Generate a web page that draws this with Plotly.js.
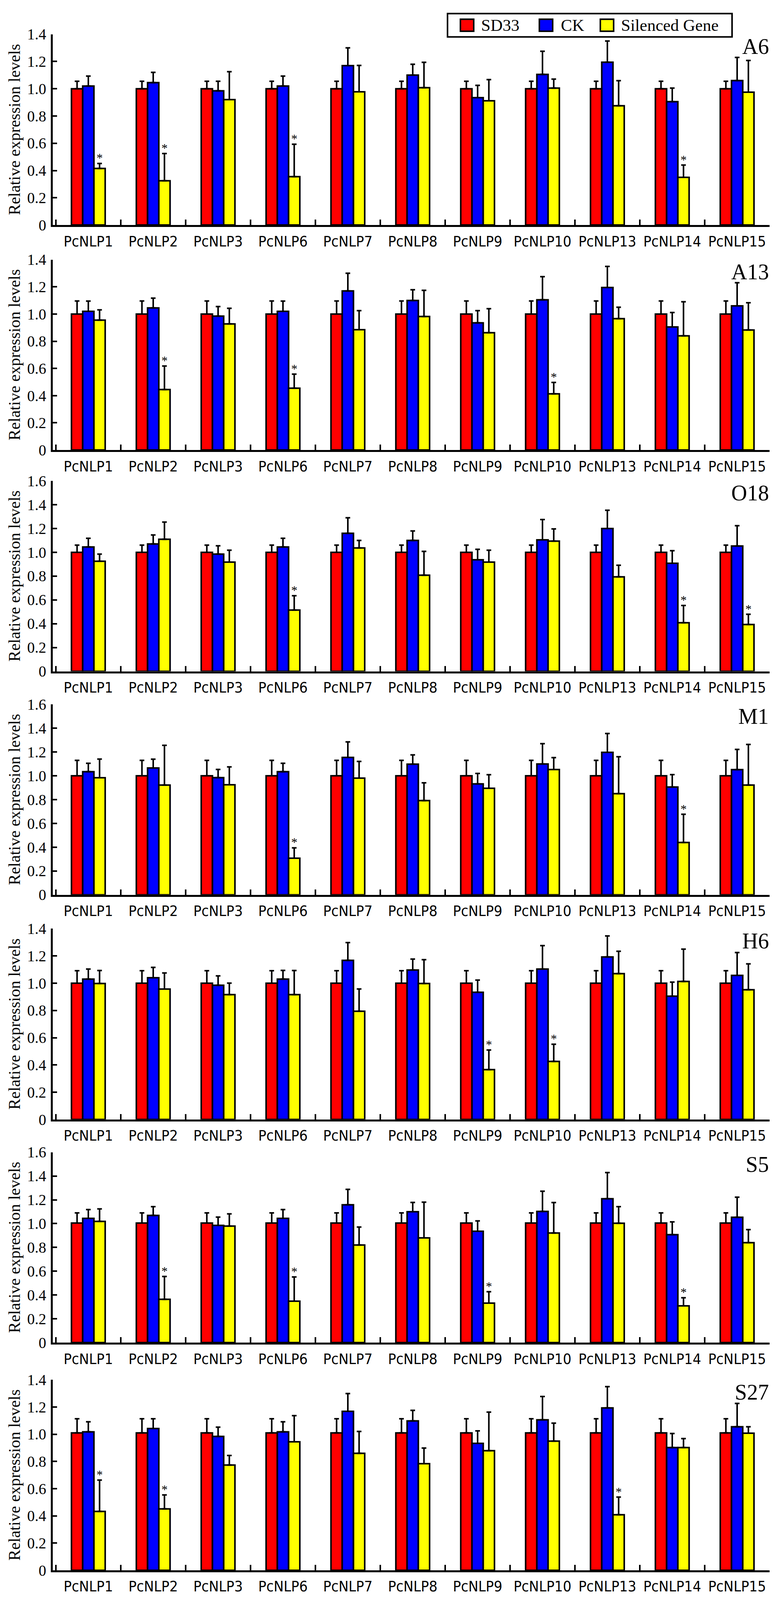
<!DOCTYPE html>
<html>
<head>
<meta charset="utf-8">
<script src="https://cdn.plot.ly/plotly-3.0.1.min.js"></script>
<style>
  html, body { margin: 0; padding: 0; background: #fff; overflow: hidden; }
</style>
</head>
<body>
<div id="chart"></div>
<script>
// ---------- DATA ----------
const GENES = ["PcNLP1", "PcNLP2", "PcNLP3", "PcNLP6", "PcNLP7", "PcNLP8",
               "PcNLP9", "PcNLP10", "PcNLP13", "PcNLP14", "PcNLP15"];
const STRAINS = ["A6", "A13", "O18", "M1", "H6", "S5", "S27"];
const SERIES = ["SD33", "CK", "Silenced Gene"];
const Y_MAX = [1.4, 1.4, 1.6, 1.6, 1.4, 1.6, 1.4];
const TICKS_14 = ["0", "0.2", "0.4", "0.6", "0.8", "1.0", "1.2", "1.4"];
const TICKS_16 = ["0", "0.2", "0.4", "0.6", "0.8", "1.0", "1.2", "1.4", "1.6"];

// A6
const A6_SD33     = [1.00, 1.00, 1.00, 1.00, 1.00, 1.00, 1.00, 1.00, 1.00, 1.00, 1.00];
const A6_SD33_ERR = [0.055, 0.055, 0.055, 0.055, 0.055, 0.055, 0.055, 0.055, 0.055, 0.055, 0.055];
const A6_CK       = [1.02, 1.045, 0.985, 1.02, 1.17, 1.10, 0.935, 1.105, 1.195, 0.905, 1.06];
const A6_CK_ERR   = [0.073, 0.075, 0.07, 0.073, 0.13, 0.08, 0.09, 0.17, 0.155, 0.10, 0.17];
const A6_SIL      = [0.415, 0.325, 0.92, 0.355, 0.978, 1.008, 0.912, 1.005, 0.875, 0.35, 0.975];
const A6_SIL_ERR  = [0.037, 0.20, 0.205, 0.238, 0.193, 0.186, 0.155, 0.066, 0.184, 0.09, 0.233];
const A6_STAR     = [0, 1, 3, 9];

// A13
const A13_SD33     = [1.00, 1.00, 1.00, 1.00, 1.00, 1.00, 1.00, 1.00, 1.00, 1.00, 1.00];
const A13_SD33_ERR = [0.096, 0.096, 0.096, 0.096, 0.096, 0.096, 0.096, 0.096, 0.096, 0.096, 0.096];
const A13_CK       = [1.02, 1.045, 0.985, 1.02, 1.17, 1.10, 0.935, 1.105, 1.195, 0.905, 1.06];
const A13_CK_ERR   = [0.075, 0.072, 0.07, 0.075, 0.13, 0.079, 0.09, 0.17, 0.155, 0.106, 0.17];
const A13_SIL      = [0.955, 0.445, 0.927, 0.455, 0.885, 0.982, 0.863, 0.413, 0.966, 0.84, 0.883];
const A13_SIL_ERR  = [0.076, 0.173, 0.115, 0.103, 0.14, 0.192, 0.176, 0.084, 0.084, 0.25, 0.20];
const A13_STAR     = [1, 3, 7];

// O18
const O18_SD33     = [1.00, 1.00, 1.00, 1.00, 1.00, 1.00, 1.00, 1.00, 1.00, 1.00, 1.00];
const O18_SD33_ERR = [0.06, 0.06, 0.06, 0.06, 0.06, 0.06, 0.06, 0.06, 0.06, 0.06, 0.06];
const O18_CK       = [1.045, 1.07, 0.985, 1.045, 1.16, 1.10, 0.937, 1.105, 1.20, 0.908, 1.053];
const O18_CK_ERR   = [0.073, 0.076, 0.07, 0.073, 0.13, 0.079, 0.088, 0.17, 0.153, 0.106, 0.171];
const O18_SIL      = [0.925, 1.11, 0.918, 0.515, 1.037, 0.808, 0.918, 1.094, 0.794, 0.408, 0.393];
const O18_SIL_ERR  = [0.06, 0.144, 0.10, 0.12, 0.063, 0.20, 0.10, 0.103, 0.097, 0.145, 0.086];
const O18_STAR     = [3, 9, 10];

// M1
const M1_SD33     = [1.00, 1.00, 1.00, 1.00, 1.00, 1.00, 1.00, 1.00, 1.00, 1.00, 1.00];
const M1_SD33_ERR = [0.13, 0.13, 0.13, 0.13, 0.13, 0.13, 0.13, 0.13, 0.13, 0.13, 0.13];
const M1_CK       = [1.035, 1.066, 0.985, 1.035, 1.155, 1.098, 0.932, 1.10, 1.197, 0.906, 1.052];
const M1_CK_ERR   = [0.07, 0.074, 0.069, 0.07, 0.13, 0.078, 0.088, 0.17, 0.159, 0.104, 0.17];
const M1_SIL      = [0.984, 0.922, 0.925, 0.308, 0.981, 0.792, 0.895, 1.053, 0.85, 0.44, 0.922];
const M1_SIL_ERR  = [0.157, 0.334, 0.15, 0.087, 0.14, 0.149, 0.114, 0.10, 0.31, 0.237, 0.342];
const M1_STAR     = [3, 9];

// H6
const H6_SD33     = [1.00, 1.00, 1.00, 1.00, 1.00, 1.00, 1.00, 1.00, 1.00, 1.00, 1.00];
const H6_SD33_ERR = [0.092, 0.092, 0.092, 0.092, 0.092, 0.092, 0.092, 0.092, 0.092, 0.092, 0.092];
const H6_CK       = [1.03, 1.04, 0.985, 1.03, 1.168, 1.097, 0.933, 1.104, 1.193, 0.905, 1.057];
const H6_CK_ERR   = [0.074, 0.076, 0.069, 0.064, 0.13, 0.08, 0.09, 0.172, 0.154, 0.103, 0.168];
const H6_SIL      = [0.998, 0.957, 0.916, 0.916, 0.794, 0.998, 0.366, 0.426, 1.07, 1.013, 0.952];
const H6_SIL_ERR  = [0.095, 0.118, 0.085, 0.177, 0.164, 0.175, 0.144, 0.126, 0.164, 0.237, 0.19];
const H6_STAR     = [6, 7];

// S5
const S5_SD33     = [1.005, 1.005, 1.005, 1.005, 1.005, 1.005, 1.005, 1.005, 1.005, 1.005, 1.005];
const S5_SD33_ERR = [0.085, 0.085, 0.085, 0.085, 0.085, 0.085, 0.085, 0.085, 0.085, 0.085, 0.085];
const S5_CK       = [1.044, 1.069, 0.985, 1.044, 1.158, 1.10, 0.936, 1.102, 1.209, 0.907, 1.053];
const S5_CK_ERR   = [0.074, 0.074, 0.07, 0.074, 0.13, 0.078, 0.087, 0.17, 0.22, 0.108, 0.169];
const S5_SIL      = [1.019, 0.364, 0.979, 0.348, 0.82, 0.88, 0.332, 0.921, 1.003, 0.309, 0.84];
const S5_SIL_ERR  = [0.105, 0.192, 0.103, 0.204, 0.151, 0.30, 0.096, 0.256, 0.14, 0.068, 0.11];
const S5_STAR     = [1, 3, 6, 9];

// S27
const S27_SD33     = [1.01, 1.01, 1.01, 1.01, 1.01, 1.01, 1.01, 1.01, 1.01, 1.01, 1.01];
const S27_SD33_ERR = [0.104, 0.104, 0.104, 0.104, 0.104, 0.104, 0.104, 0.104, 0.104, 0.104, 0.104];
const S27_CK       = [1.018, 1.042, 0.984, 1.018, 1.169, 1.098, 0.933, 1.106, 1.194, 0.902, 1.055];
const S27_CK_ERR   = [0.074, 0.072, 0.068, 0.074, 0.13, 0.078, 0.092, 0.172, 0.156, 0.104, 0.172];
const S27_SIL      = [0.433, 0.451, 0.774, 0.945, 0.86, 0.784, 0.879, 0.95, 0.408, 0.902, 1.008];
const S27_SIL_ERR  = [0.23, 0.103, 0.07, 0.192, 0.161, 0.115, 0.284, 0.132, 0.13, 0.066, 0.047];
const S27_STAR     = [0, 1, 8];

const SD33_ALL = [A6_SD33, A13_SD33, O18_SD33, M1_SD33, H6_SD33, S5_SD33, S27_SD33];
const SD33_ERR_ALL = [A6_SD33_ERR, A13_SD33_ERR, O18_SD33_ERR, M1_SD33_ERR, H6_SD33_ERR, S5_SD33_ERR, S27_SD33_ERR];
const CK_ALL = [A6_CK, A13_CK, O18_CK, M1_CK, H6_CK, S5_CK, S27_CK];
const CK_ERR_ALL = [A6_CK_ERR, A13_CK_ERR, O18_CK_ERR, M1_CK_ERR, H6_CK_ERR, S5_CK_ERR, S27_CK_ERR];
const SIL_ALL = [A6_SIL, A13_SIL, O18_SIL, M1_SIL, H6_SIL, S5_SIL, S27_SIL];
const SIL_ERR_ALL = [A6_SIL_ERR, A13_SIL_ERR, O18_SIL_ERR, M1_SIL_ERR, H6_SIL_ERR, S5_SIL_ERR, S27_SIL_ERR];
const STAR_ALL = [A6_STAR, A13_STAR, O18_STAR, M1_STAR, H6_STAR, S5_STAR, S27_STAR];

// ---------- LAYOUT GEOMETRY (reference px, 1988 x 4252) ----------
const W = 1988, REF_H = 4252;
// the browser viewport may be shorter than the figure: fit to it
const H = window.innerHeight > 1000 ? Math.min(window.innerHeight, REF_H) : REF_H;
const PANEL_TOP = [91, 690, 1278, 1872, 2468, 3062, 3667];
const PANEL_BOTTOM = [598, 1196, 1784, 2378, 2975, 3568, 4173];
const X_LEFT = 135, X_RIGHT = 1969;
const COLORS = ["#ff0000", "#0000ff", "#ffff00"];
const BAR_GAP = 0.48;

const SERIF = "'Times New Roman', 'Liberation Serif', serif";
const NARROW = "'Arial Narrow', 'Liberation Sans Narrow', 'DejaVu Sans Condensed', 'Liberation Sans', sans-serif";

const py = v => 1 - v / REF_H;   // reference px from top -> paper fraction

const data = [];
const layout = {
  width: W,
  height: H,
  margin: { l: 0, r: 0, t: 0, b: 0 },
  paper_bgcolor: "#fff",
  plot_bgcolor: "#fff",
  barmode: "group",
  bargap: BAR_GAP,
  bargroupgap: 0,
  showlegend: false,
  annotations: [],
  shapes: []
};

const zeros = GENES.map(() => 0);
const barW = (1 - BAR_GAP) / 3;

STRAINS.forEach((strain, i) => {
  const n = i === 0 ? "" : String(i + 1);
  const vals = [SD33_ALL[i], CK_ALL[i], SIL_ALL[i]];
  const errs = [SD33_ERR_ALL[i], CK_ERR_ALL[i], SIL_ERR_ALL[i]];

  vals.forEach((v, s) => {
    data.push({
      type: "bar",
      name: SERIES[s],
      x: GENES,
      y: v,
      xaxis: "x" + n,
      yaxis: "y" + n,
      marker: { color: COLORS[s], line: { color: "#000", width: 4 } },
      error_y: {
        type: "data", symmetric: false, array: errs[s], arrayminus: zeros,
        color: "#000", thickness: 4, width: 6
      },
      hoverinfo: "skip"
    });
  });

  const y0 = py(PANEL_BOTTOM[i]);
  const y1 = py(PANEL_TOP[i]);
  const ticks = Y_MAX[i] > 1.5 ? TICKS_16 : TICKS_14;

  layout["xaxis" + n] = {
    domain: [X_LEFT / W, X_RIGHT / W],
    anchor: "y" + n,
    type: "category",
    range: [-0.548, 10.5],
    showline: true, linewidth: 5, linecolor: "#000",
    ticks: "inside", tickson: "boundaries", ticklen: 14, tickwidth: 4, tickcolor: "#000",
    tickangle: 0,
    tickfont: { family: NARROW, size: 38, color: "#000" },
    ticklabelstandoff: 4,
    showgrid: false, zeroline: false, automargin: false, fixedrange: true
  };
  layout["yaxis" + n] = {
    domain: [y0, y1],
    anchor: "x" + n,
    range: [0, Y_MAX[i]],
    tickvals: ticks.map(Number),
    ticktext: ticks,
    showline: true, linewidth: 5, linecolor: "#000",
    ticks: "inside", ticklen: 11, tickwidth: 4, tickcolor: "#000",
    tickfont: { family: SERIF, size: 39, color: "#000" },
    ticklabelstandoff: 4,
    showgrid: false, zeroline: false, automargin: false, fixedrange: true
  };

  // y title
  layout.annotations.push({
    xref: "paper", yref: "paper",
    x: 37 / W, y: (y0 + y1) / 2,
    xanchor: "center", yanchor: "middle",
    text: "Relative expression levels", textangle: -90, showarrow: false,
    font: { family: SERIF, size: 42, color: "#000" }
  });

  // strain label
  layout.annotations.push({
    xref: "paper", yref: "paper",
    x: X_RIGHT / W, y: py(PANEL_TOP[i] - 2),
    xanchor: "right", yanchor: "top",
    text: strain, showarrow: false,
    font: { family: SERIF, size: 56, color: "#000" }
  });

  // significance marks on silenced-gene bars
  STAR_ALL[i].forEach(k => {
    layout.annotations.push({
      xref: "x" + n, yref: "y" + n,
      x: k + barW, y: SIL_ALL[i][k] + SIL_ERR_ALL[i][k],
      xanchor: "center", yanchor: "bottom", yshift: -6,
      text: "*", showarrow: false,
      font: { family: SERIF, size: 32, color: "#000" }
    });
  });
});

// ---------- LEGEND (drawn by hand for large swatches) ----------
const LEG_BOX = [1145, 36, 1873, 98];
const LEG_SWATCH_X = [1178, 1380, 1536];
const LEG_TEXT_X = [1229, 1433, 1587];

layout.shapes.push({
  type: "rect", xref: "paper", yref: "paper",
  x0: LEG_BOX[0] / W, x1: LEG_BOX[2] / W,
  y0: py(LEG_BOX[3]), y1: py(LEG_BOX[1]),
  line: { color: "#000", width: 4 }, fillcolor: "#fff"
});
SERIES.forEach((s, k) => {
  layout.shapes.push({
    type: "rect", xref: "paper", yref: "paper",
    x0: LEG_SWATCH_X[k] / W, x1: (LEG_SWATCH_X[k] + 34) / W,
    y0: py(83), y1: py(51),
    line: { color: "#000", width: 4 }, fillcolor: COLORS[k]
  });
  layout.annotations.push({
    xref: "paper", yref: "paper",
    x: LEG_TEXT_X[k] / W, y: py(67),
    xanchor: "left", yanchor: "middle",
    text: s, showarrow: false,
    font: { family: SERIF, size: 43, color: "#000" }
  });
});

Plotly.newPlot("chart", data, layout, { staticPlot: true, displayModeBar: false });
</script>
</body>
</html>
